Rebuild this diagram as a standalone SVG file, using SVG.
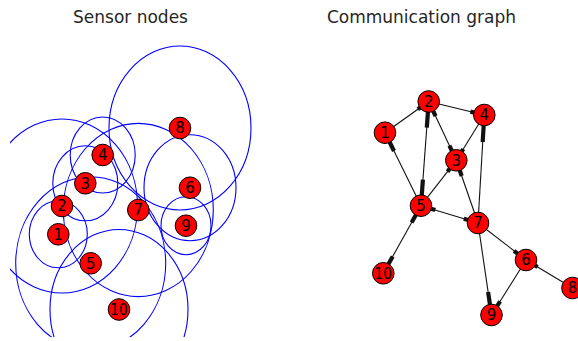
<svg xmlns="http://www.w3.org/2000/svg" width="578" height="341" viewBox="0 0 578 341">
  <style>
    .title { font-family: "DejaVu Sans", "Liberation Sans", sans-serif; font-size: 17px; fill: #262626; text-anchor: middle; }
    .range { fill: none; stroke: #0000ff; stroke-width: 1.1; }
    .node circle { fill: #ff0000; stroke: #000; stroke-width: 1; }
    .node text { font-family: "DejaVu Sans", "Liberation Sans", sans-serif; font-size: 15px; fill: #000; text-anchor: middle; }
    .edge { stroke: #111; stroke-width: 1.1; }
    .head { stroke: #111; stroke-width: 4.2; }
  </style>
  <defs>
    <clipPath id="leftAxes">
      <rect x="10" y="30" width="270" height="307"/>
    </clipPath>
  </defs>
  <rect width="578" height="341" fill="#ffffff"/>

  <text class="title" x="130.5" y="22.5">Sensor nodes</text>
  <text class="title" x="421.5" y="22.5">Communication graph</text>

  <!-- left: sensor positions with transmission ranges -->
  <g id="ranges" clip-path="url(#leftAxes)">
    <ellipse class="range" cx="58.3" cy="234.3" rx="29" ry="33.5"/>
    <ellipse class="range" cx="62" cy="206" rx="75.5" ry="87"/>
    <ellipse class="range" cx="85.3" cy="183.3" rx="32.5" ry="37.5"/>
    <ellipse class="range" cx="102.7" cy="155" rx="32.5" ry="38"/>
    <ellipse class="range" cx="90.7" cy="263.3" rx="75" ry="86.6"/>
    <ellipse class="range" cx="190" cy="187.7" rx="46" ry="53"/>
    <ellipse class="range" cx="138.3" cy="210" rx="75" ry="86.6"/>
    <ellipse class="range" cx="180" cy="128" rx="71" ry="82"/>
    <ellipse class="range" cx="186" cy="225.7" rx="25" ry="29"/>
    <ellipse class="range" cx="119" cy="309.5" rx="69" ry="80"/>
  </g>

  <g id="sensor-1" class="node"><circle cx="58.3" cy="234.3" r="10.8"/><text x="58.3" y="239.7">1</text></g>
  <g id="sensor-2" class="node"><circle cx="62" cy="206" r="10.8"/><text x="62" y="211.4">2</text></g>
  <g id="sensor-3" class="node"><circle cx="85.3" cy="183.3" r="10.8"/><text x="85.3" y="188.7">3</text></g>
  <g id="sensor-4" class="node"><circle cx="102.7" cy="155" r="10.8"/><text x="102.7" y="160.4">4</text></g>
  <g id="sensor-5" class="node"><circle cx="90.7" cy="263.3" r="10.8"/><text x="90.7" y="268.7">5</text></g>
  <g id="sensor-6" class="node"><circle cx="190" cy="187.7" r="10.8"/><text x="190" y="193.1">6</text></g>
  <g id="sensor-7" class="node"><circle cx="138.3" cy="210" r="10.8"/><text x="138.3" y="215.4">7</text></g>
  <g id="sensor-8" class="node"><circle cx="180" cy="128" r="10.8"/><text x="180" y="133.4">8</text></g>
  <g id="sensor-9" class="node"><circle cx="186" cy="225.7" r="10.8"/><text x="186" y="231.1">9</text></g>
  <g id="sensor-10" class="node"><circle cx="119" cy="309.5" r="10.8"/><text x="119" y="314.9" textLength="17.5" lengthAdjust="spacingAndGlyphs">10</text></g>

  <!-- right: directed communication links; thick segment marks the head end -->
  <g id="links">
    <line class="edge" x1="385" y1="132.7" x2="428.7" y2="101.5"/>
    <line class="edge" x1="428.7" y1="101.5" x2="484.3" y2="115"/>
    <line class="edge" x1="428.7" y1="101.5" x2="456.3" y2="160.3"/>
    <line class="edge" x1="428.7" y1="101.5" x2="421" y2="205.7"/>
    <line class="edge" x1="484.3" y1="115" x2="456.3" y2="160.3"/>
    <line class="edge" x1="421" y1="205.7" x2="456.3" y2="160.3"/>
    <line class="edge" x1="478" y1="223" x2="456.3" y2="160.3"/>
    <line class="edge" x1="478" y1="223" x2="484.3" y2="115"/>
    <line class="edge" x1="421" y1="205.7" x2="478" y2="223"/>
    <line class="edge" x1="421" y1="205.7" x2="383.3" y2="273.3"/>
    <line class="edge" x1="421" y1="205.7" x2="385" y2="132.7"/>
    <line class="edge" x1="478" y1="223" x2="526" y2="260"/>
    <line class="edge" x1="478" y1="223" x2="491.5" y2="315"/>
    <line class="edge" x1="526" y1="260" x2="491.5" y2="315"/>
    <line class="edge" x1="572.5" y1="288" x2="526" y2="260"/>

    <line class="head" x1="417.8" y1="109.3" x2="428.7" y2="101.5"/>
    <line class="head" x1="470.4" y1="111.6" x2="484.3" y2="115"/>
    <line class="head" x1="449.4" y1="145.6" x2="456.3" y2="160.3"/>
    <line class="head" x1="435.6" y1="116.2" x2="428.7" y2="101.5"/>
    <line class="head" x1="422.9" y1="179.7" x2="421" y2="205.7"/>
    <line class="head" x1="426.8" y1="127.6" x2="428.7" y2="101.5"/>
    <line class="head" x1="463.3" y1="149" x2="456.3" y2="160.3"/>
    <line class="head" x1="447.5" y1="171.6" x2="456.3" y2="160.3"/>
    <line class="head" x1="461.7" y1="176" x2="456.3" y2="160.3"/>
    <line class="head" x1="482.7" y1="142" x2="484.3" y2="115"/>
    <line class="head" x1="463.8" y1="218.7" x2="478" y2="223"/>
    <line class="head" x1="435.3" y1="210" x2="421" y2="205.7"/>
    <line class="head" x1="392.7" y1="256.4" x2="383.3" y2="273.3"/>
    <line class="head" x1="411.6" y1="222.6" x2="421" y2="205.7"/>
    <line class="head" x1="394" y1="151" x2="385" y2="132.7"/>
    <line class="head" x1="514" y1="250.8" x2="526" y2="260"/>
    <line class="head" x1="488.1" y1="292" x2="491.5" y2="315"/>
    <line class="head" x1="500.1" y1="301.3" x2="491.5" y2="315"/>
    <line class="head" x1="537.6" y1="267" x2="526" y2="260"/>
  </g>

  <g id="node-1" class="node"><circle cx="385" cy="132.7" r="10.8"/><text x="385" y="138.1">1</text></g>
  <g id="node-2" class="node"><circle cx="428.7" cy="101.5" r="10.8"/><text x="428.7" y="106.9">2</text></g>
  <g id="node-3" class="node"><circle cx="456.3" cy="160.3" r="10.8"/><text x="456.3" y="165.7">3</text></g>
  <g id="node-4" class="node"><circle cx="484.3" cy="115" r="10.8"/><text x="484.3" y="120.4">4</text></g>
  <g id="node-5" class="node"><circle cx="421" cy="205.7" r="10.8"/><text x="421" y="211.1">5</text></g>
  <g id="node-6" class="node"><circle cx="526" cy="260" r="10.8"/><text x="526" y="265.4">6</text></g>
  <g id="node-7" class="node"><circle cx="478" cy="223" r="10.8"/><text x="478" y="228.4">7</text></g>
  <g id="node-8" class="node"><circle cx="572.5" cy="288" r="10.8"/><text x="572.5" y="293.4">8</text></g>
  <g id="node-9" class="node"><circle cx="491.5" cy="315" r="10.8"/><text x="491.5" y="320.4">9</text></g>
  <g id="node-10" class="node"><circle cx="383.3" cy="273.3" r="10.8"/><text x="383.3" y="278.7" textLength="17.5" lengthAdjust="spacingAndGlyphs">10</text></g>
</svg>
